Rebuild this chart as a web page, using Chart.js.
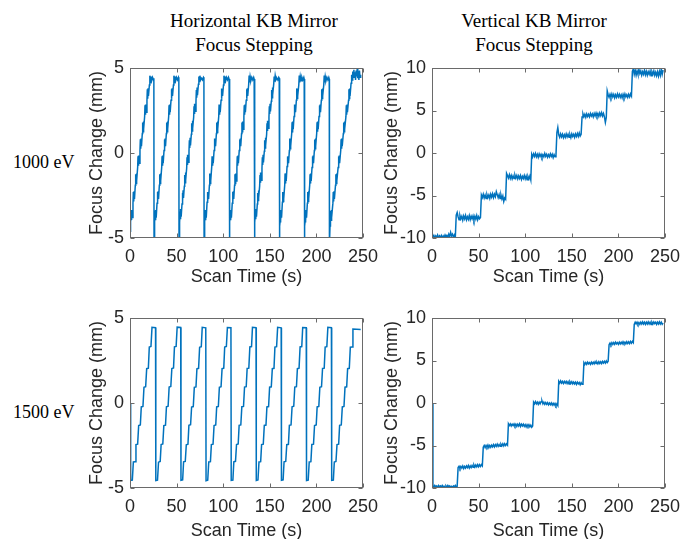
<!DOCTYPE html>
<html><head><meta charset="utf-8">
<script src="https://cdn.jsdelivr.net/npm/chart.js@4.4.1/dist/chart.umd.min.js"></script>
<style>
html,body{margin:0;padding:0;width:692px;height:539px;overflow:hidden;background:#fff;}
canvas{position:absolute;}
.hdr{position:absolute;font-family:"Liberation Serif","Times New Roman",serif;font-size:19px;line-height:24px;color:#000;text-align:center;width:220px;}
.row{position:absolute;font-family:"Liberation Serif","Times New Roman",serif;font-size:18px;line-height:24px;color:#000;white-space:nowrap;}
</style></head><body>
<div class="hdr" style="left:144px;top:9px">Horizontal KB Mirror<br>Focus Stepping</div>
<div class="hdr" style="left:424px;top:9px">Vertical KB Mirror<br>Focus Stepping</div>
<div class="row" style="left:13px;top:150px">1000 eV</div>
<div class="row" style="left:13px;top:400px">1500 eV</div>
<canvas id="c1" width="300" height="233" style="left:86px;top:55px"></canvas>
<canvas id="c2" width="311" height="233" style="left:381px;top:55px"></canvas>
<canvas id="c3" width="300" height="237" style="left:86px;top:305px"></canvas>
<canvas id="c4" width="311" height="237" style="left:381px;top:305px"></canvas>
<script>
// ---- tick labels / axis titles ----
const xTicks = [0, 50, 100, 150, 200, 250];
const yTicksHoriz = [-5, 0, 5];
const yTicksVert = [-10, -5, 0, 5, 10];
const xTitle = "Scan Time (s)";
const yTitle = "Focus Change (mm)";

// ---- Horizontal KB mirror, 1000 eV (time s, focus mm) ----
const hk1000Time = [
0.0,0.5,0.7,1.1,1.5,1.9,2.3,3.2,3.6,4.0,4.4,4.8,5.7,6.1,6.5,6.9,7.3,8.2,8.6,9.0,9.4,9.8,10.7,11.1,11.5,11.9,12.3,13.2,13.6,14.0,14.4,14.8,15.7,16.1,16.5,16.9,17.3,18.2,18.6,19.0,19.4,19.8,20.8,21.3,21.8,22.4,23.2,24.2,25.2,25.6,
25.8,26.3,26.5,26.9,27.3,27.7,28.1,29.0,29.4,29.8,30.2,30.6,31.5,31.9,32.3,32.7,33.1,34.0,34.4,34.8,35.2,35.6,36.5,36.9,37.3,37.7,38.1,39.0,39.4,39.8,40.2,40.6,41.5,41.9,42.3,42.7,43.1,44.0,44.4,44.8,45.2,45.6,46.6,47.1,47.6,48.2,49.0,50.0,51.0,52.0,52.4,
52.6,53.1,53.3,53.7,54.1,54.5,54.9,55.8,56.2,56.6,57.0,57.4,58.3,58.7,59.1,59.5,59.9,60.8,61.2,61.6,62.0,62.4,63.3,63.7,64.1,64.5,64.9,65.8,66.2,66.6,67.0,67.4,68.3,68.7,69.1,69.5,69.9,70.8,71.2,71.6,72.0,72.4,73.4,73.9,74.4,75.0,75.8,76.8,77.8,78.8,79.3,
79.5,80.0,80.2,80.6,81.0,81.4,81.8,82.7,83.1,83.5,83.9,84.3,85.2,85.6,86.0,86.4,86.8,87.7,88.1,88.5,88.9,89.3,90.2,90.6,91.0,91.4,91.8,92.7,93.1,93.5,93.9,94.3,95.2,95.6,96.0,96.4,96.8,97.7,98.1,98.5,98.9,99.3,100.3,100.8,101.3,101.9,102.7,103.7,104.7,105.7,106.3,
106.5,107.0,107.2,107.6,108.0,108.4,108.8,109.7,110.1,110.5,110.9,111.3,112.2,112.6,113.0,113.4,113.8,114.7,115.1,115.5,115.9,116.3,117.2,117.6,118.0,118.4,118.8,119.7,120.1,120.5,120.9,121.3,122.2,122.6,123.0,123.4,123.8,124.7,125.1,125.5,125.9,126.3,127.3,127.8,128.3,128.9,129.7,130.7,131.7,132.7,133.2,
133.4,133.9,134.1,134.5,134.9,135.3,135.7,136.6,137.0,137.4,137.8,138.2,139.1,139.5,139.9,140.3,140.7,141.6,142.0,142.4,142.8,143.2,144.1,144.5,144.9,145.3,145.7,146.6,147.0,147.4,147.8,148.2,149.1,149.5,149.9,150.3,150.7,151.6,152.0,152.4,152.8,153.2,154.2,154.7,155.2,155.8,156.6,157.6,158.6,159.6,160.1,
160.3,160.8,161.0,161.4,161.8,162.2,162.6,163.5,163.9,164.3,164.7,165.1,166.0,166.4,166.8,167.2,167.6,168.5,168.9,169.3,169.7,170.1,171.0,171.4,171.8,172.2,172.6,173.5,173.9,174.3,174.7,175.1,176.0,176.4,176.8,177.2,177.6,178.5,178.9,179.3,179.7,180.1,181.1,181.6,182.1,182.7,183.5,184.5,185.5,186.5,186.9,
187.1,187.6,187.8,188.2,188.6,189.0,189.4,190.3,190.7,191.1,191.5,191.9,192.8,193.2,193.6,194.0,194.4,195.3,195.7,196.1,196.5,196.9,197.8,198.2,198.6,199.0,199.4,200.3,200.7,201.1,201.5,201.9,202.8,203.2,203.6,204.0,204.4,205.3,205.7,206.1,206.5,206.9,207.9,208.4,208.9,209.5,210.3,211.3,212.3,213.3,213.8,
214.0,214.6,214.9,215.3,215.7,216.1,216.5,217.7,218.1,218.5,218.9,219.3,220.5,220.9,221.3,221.7,222.1,223.3,223.7,224.1,224.5,224.9,226.1,226.5,226.9,227.3,227.7,228.9,229.3,229.7,230.1,230.5,231.7,232.1,232.5,232.9,233.3,234.5,234.9,235.3,235.7,236.1,
237.2,237.8,238.4,239.0,239.6,240.2,240.8,241.4,242.0,242.6,243.2,243.8,244.4,245.0,245.6,246.2,246.8,247.5
];
const hk1000Focus = [
-4.6,-4.3,-4.05,-3.4,-3.95,-3.35,-3.8,-2.95,-2.3,-2.85,-2.25,-2.7,-1.9,-1.25,-1.8,-1.2,-1.65,-0.85,-0.2,-0.75,-0.15,-0.6,0.15,0.8,0.25,0.85,0.4,1.15,1.8,1.25,1.85,1.4,2.15,2.8,2.25,2.85,2.4,3.1,3.75,3.2,3.8,3.35,4.0,4.55,4.15,4.5,4.25,4.45,4.3,4.4,
-5.4,-4.3,-4.05,-3.4,-3.95,-3.35,-3.8,-2.95,-2.3,-2.85,-2.25,-2.7,-1.9,-1.25,-1.8,-1.2,-1.65,-0.85,-0.2,-0.75,-0.15,-0.6,0.15,0.8,0.25,0.85,0.4,1.15,1.8,1.25,1.85,1.4,2.15,2.8,2.25,2.85,2.4,3.1,3.75,3.2,3.8,3.35,4.0,4.55,4.15,4.5,4.25,4.45,4.3,4.45,4.35,
-5.4,-4.3,-4.1,-3.45,-3.9,-3.3,-3.75,-3.0,-2.35,-2.8,-2.2,-2.65,-1.95,-1.3,-1.75,-1.15,-1.6,-0.9,-0.25,-0.7,-0.1,-0.55,0.1,0.75,0.3,0.9,0.45,1.1,1.75,1.3,1.9,1.45,2.1,2.75,2.3,2.9,2.45,3.05,3.7,3.25,3.85,3.4,4.05,4.5,4.2,4.55,4.3,4.4,4.3,4.45,4.4,
-5.4,-4.3,-4.05,-3.35,-3.95,-3.4,-3.8,-2.9,-2.3,-2.85,-2.3,-2.7,-1.9,-1.2,-1.8,-1.25,-1.65,-0.8,-0.2,-0.75,-0.2,-0.6,0.15,0.85,0.25,0.8,0.4,1.15,1.8,1.2,1.85,1.4,2.15,2.85,2.25,2.8,2.4,3.1,3.8,3.2,3.75,3.35,4.0,4.55,4.15,4.5,4.25,4.45,4.3,4.45,4.35,
-5.4,-4.3,-4.05,-3.4,-3.95,-3.35,-3.8,-2.95,-2.3,-2.85,-2.25,-2.7,-1.9,-1.25,-1.8,-1.2,-1.65,-0.85,-0.2,-0.75,-0.15,-0.6,0.15,0.8,0.25,0.85,0.4,1.15,1.8,1.25,1.85,1.4,2.15,2.8,2.25,2.85,2.4,3.1,3.75,3.2,3.8,3.35,4.0,4.55,4.15,4.5,4.25,4.45,4.3,4.45,4.35,
-5.4,-4.3,-4.1,-3.45,-3.9,-3.3,-3.75,-3.0,-2.35,-2.8,-2.2,-2.65,-1.95,-1.3,-1.75,-1.15,-1.6,-0.9,-0.25,-0.7,-0.1,-0.55,0.1,0.75,0.3,0.9,0.45,1.1,1.75,1.3,1.9,1.45,2.1,2.75,2.3,2.9,2.45,3.05,3.7,3.25,3.85,3.4,4.05,4.5,4.2,4.55,4.3,4.4,4.3,4.45,4.4,
-5.4,-4.3,-4.05,-3.35,-3.95,-3.4,-3.8,-2.9,-2.3,-2.85,-2.3,-2.7,-1.9,-1.2,-1.8,-1.25,-1.65,-0.8,-0.2,-0.75,-0.2,-0.6,0.15,0.85,0.25,0.8,0.4,1.15,1.8,1.2,1.85,1.4,2.15,2.85,2.25,2.8,2.4,3.1,3.8,3.2,3.75,3.35,4.0,4.55,4.15,4.5,4.25,4.45,4.3,4.45,4.35,
-5.4,-4.3,-4.05,-3.4,-3.95,-3.35,-3.8,-2.95,-2.3,-2.85,-2.25,-2.7,-1.9,-1.25,-1.8,-1.2,-1.65,-0.85,-0.2,-0.75,-0.15,-0.6,0.15,0.8,0.25,0.85,0.4,1.15,1.8,1.25,1.85,1.4,2.15,2.8,2.25,2.85,2.4,3.1,3.75,3.2,3.8,3.35,4.0,4.55,4.15,4.5,4.25,4.45,4.3,4.45,4.35,
-5.4,-4.3,-4.05,-3.4,-3.95,-3.35,-3.8,-2.95,-2.3,-2.85,-2.25,-2.7,-1.9,-1.25,-1.8,-1.2,-1.65,-0.85,-0.2,-0.75,-0.15,-0.6,0.15,0.8,0.25,0.85,0.4,1.15,1.8,1.25,1.85,1.4,2.15,2.8,2.25,2.85,2.4,3.1,3.75,3.2,3.8,3.35,
4.1,4.6,4.3,4.8,4.45,4.9,4.5,4.75,4.3,4.85,4.5,4.95,4.4,4.8,4.3,4.85,4.45,4.6
];

// ---- Horizontal KB mirror, 1500 eV ----
const hk1500Time = [
0.0,
0.7,2.5,3.6,5.4,6.4,8.2,9.3,11.1,12.1,13.9,15.0,16.8,17.9,19.7,20.7,22.5,23.6,27.4,
27.7,29.5,30.6,32.4,33.4,35.2,36.3,38.1,39.1,40.9,42.0,43.8,44.9,46.7,47.7,49.5,50.6,54.4,
54.7,56.5,57.5,59.3,60.4,62.2,63.2,65.0,66.1,67.9,69.0,70.8,71.8,73.6,74.7,76.5,77.5,81.3,
81.6,83.4,84.5,86.3,87.3,89.1,90.2,92.0,93.0,94.8,95.9,97.7,98.8,100.6,101.6,103.4,104.5,108.3,
108.6,110.4,111.4,113.2,114.3,116.1,117.1,118.9,120.0,121.8,122.9,124.7,125.7,127.5,128.6,130.4,131.4,135.2,
135.5,137.3,138.4,140.2,141.2,143.0,144.1,145.9,146.9,148.7,149.8,151.6,152.7,154.5,155.5,157.3,158.4,162.2,
162.5,164.3,165.3,167.1,168.2,170.0,171.0,172.8,173.9,175.7,176.8,178.6,179.6,181.4,182.5,184.3,185.3,189.1,
189.4,191.2,192.3,194.1,195.1,196.9,198.0,199.8,200.8,202.6,203.7,205.5,206.6,208.4,209.4,211.2,212.3,216.1,
216.4,218.2,219.2,221.0,222.1,223.9,224.9,226.7,227.8,229.6,230.7,232.5,233.5,235.3,236.4,238.2,239.2,247.5
];
const hk1500Focus = [
0.0,
-4.55,-4.53,-3.47,-3.45,-2.45,-2.42,-1.32,-1.29,-0.23,-0.20,0.93,0.96,2.02,2.05,3.29,3.32,4.45,4.43,
-4.56,-4.54,-3.48,-3.44,-2.44,-2.41,-1.33,-1.30,-0.22,-0.19,0.94,0.97,2.03,2.06,3.30,3.33,4.46,4.44,
-4.55,-4.52,-3.46,-3.44,-2.46,-2.43,-1.31,-1.28,-0.24,-0.21,0.92,0.95,2.01,2.04,3.28,3.31,4.45,4.42,
-4.57,-4.54,-3.47,-3.45,-2.45,-2.42,-1.32,-1.29,-0.23,-0.20,0.93,0.96,2.02,2.05,3.29,3.32,4.44,4.43,
-4.55,-4.53,-3.46,-3.43,-2.44,-2.41,-1.31,-1.29,-0.22,-0.20,0.94,0.96,2.03,2.05,3.30,3.32,4.45,4.43,
-4.56,-4.53,-3.47,-3.45,-2.45,-2.42,-1.32,-1.30,-0.23,-0.21,0.93,0.95,2.02,2.04,3.29,3.31,4.45,4.42,
-4.55,-4.52,-3.46,-3.44,-2.45,-2.43,-1.31,-1.29,-0.22,-0.19,0.94,0.96,2.02,2.05,3.30,3.32,4.44,4.43,
-4.56,-4.54,-3.47,-3.45,-2.44,-2.42,-1.32,-1.29,-0.23,-0.20,0.93,0.96,2.03,2.05,3.29,3.31,4.45,4.43,
-4.55,-4.53,-3.47,-3.44,-2.45,-2.42,-1.31,-1.29,-0.23,-0.20,0.93,0.95,2.02,2.04,3.28,3.30,4.35,4.33
];

// ---- Vertical KB mirror, sampled on a 1 s grid ----
const scanTime = [
0,1,2,3,4,5,6,7,8,9,10,11,12,13,14,15,16,17,18,19,20,21,22,23,24,25,26,27,28,29,30,31,32,33,34,35,36,37,38,39,40,41,42,43,44,45,46,47,48,49,
50,51,52,53,54,55,56,57,58,59,60,61,62,63,64,65,66,67,68,69,70,71,72,73,74,75,76,77,78,79,80,81,82,83,84,85,86,87,88,89,90,91,92,93,94,95,96,97,98,99,
100,101,102,103,104,105,106,107,108,109,110,111,112,113,114,115,116,117,118,119,120,121,122,123,124,125,126,127,128,129,130,131,132,133,134,135,136,137,138,139,140,141,142,143,144,145,146,147,148,149,
150,151,152,153,154,155,156,157,158,159,160,161,162,163,164,165,166,167,168,169,170,171,172,173,174,175,176,177,178,179,180,181,182,183,184,185,186,187,188,189,190,191,192,193,194,195,196,197,198,199,
200,201,202,203,204,205,206,207,208,209,210,211,212,213,214,215,216,217,218,219,220,221,222,223,224,225,226,227,228,229,230,231,232,233,234,235,236,237,238,239,240,241,242,243,244,245,246,247,248
];
const vk1000Focus = [
-9.65,-9.95,-9.7,-10.0,-9.75,-9.95,-9.65,-10.0,-9.75,-9.95,-9.7,-10.0,-9.75,-9.95,-9.65,-9.9,-9.7,-9.95,-9.55,-9.85,-9.35,-9.75,-9.55,-9.9,-9.65,-9.95,
-7.3,-7.0,-7.5,-7.85,-7.35,-7.75,-7.45,-7.9,-7.4,-7.75,-7.35,-7.85,-7.5,-7.8,-7.35,-7.85,-7.45,-7.75,-7.4,-7.9,-7.45,-7.8,-7.35,-7.85,-7.5,-7.75,-7.6,
-4.95,-5.25,-4.85,-5.3,-4.95,-5.35,-4.9,-5.25,-4.95,-5.35,-4.85,-5.2,-4.8,-5.25,-4.85,-5.15,-4.55,-4.9,-5.25,-4.9,-5.35,-4.95,-5.4,-5.05,-5.7,-5.3,-5.45,
-2.4,-2.65,-2.95,-2.55,-3.0,-2.65,-3.05,-2.7,-3.0,-2.6,-2.95,-2.65,-3.05,-2.7,-3.0,-2.65,-3.1,-2.75,-3.0,-2.65,-3.05,-2.7,-3.15,-2.75,-3.05,-2.7,-3.15,
-0.15,-0.45,-0.1,-0.4,-0.05,-0.45,-0.15,-0.5,-0.1,-0.4,-0.15,-0.5,-0.2,-0.45,-0.05,-0.4,-0.15,-0.5,-0.2,-0.45,-0.1,-0.4,-0.15,-0.55,-0.2,-0.45,-0.3,
2.4,3.0,2.15,1.85,2.25,1.9,2.2,1.8,2.15,1.85,2.25,1.9,2.2,1.85,2.15,1.8,2.25,1.95,2.2,1.85,2.25,1.95,2.3,1.95,2.35,2.0,2.2,
4.25,4.6,4.25,4.55,4.2,4.6,4.3,4.55,4.25,4.65,4.35,4.6,4.25,4.65,4.35,4.7,4.35,4.65,4.3,4.7,4.4,4.75,4.35,4.65,4.25,3.6,4.2,
7.3,6.85,6.55,6.9,6.55,6.95,6.6,6.9,6.5,6.85,6.55,6.95,6.6,6.9,6.55,6.85,6.5,6.9,6.55,6.95,6.6,6.85,6.55,6.9,6.6,6.95,6.7,
9.6,9.9,9.25,9.75,9.15,9.65,9.25,9.85,9.35,9.65,9.15,9.55,9.25,9.75,9.2,9.6,9.15,9.55,9.25,9.65,9.1,9.55,9.25,9.65,9.15,9.5,9.1,9.55,9.05,9.6,9.15,9.9,9.25,9.75
];
const vk1500Focus = [
0.0,
-9.75,-9.9,-9.7,-9.85,-9.75,-9.95,-9.7,-9.85,-9.75,-9.9,-9.7,-9.85,-9.8,-9.95,-9.75,-9.9,-9.7,-9.85,-9.75,-9.9,-9.8,-9.95,-9.75,-9.85,-9.7,-9.9,-9.8,
-7.6,-7.45,-7.7,-7.45,-7.65,-7.4,-7.7,-7.45,-7.65,-7.4,-7.6,-7.35,-7.65,-7.4,-7.6,-7.35,-7.55,-7.3,-7.55,-7.3,-7.5,-7.25,-7.5,-7.25,-7.45,-7.25,-7.4,
-5.2,-5.0,-5.25,-5.0,-5.2,-4.95,-5.25,-5.0,-5.2,-4.95,-5.15,-4.9,-5.15,-4.9,-5.1,-4.85,-5.1,-4.9,-5.1,-4.85,-5.05,-4.8,-5.05,-4.8,-5.0,-4.8,-4.95,
-2.45,-2.65,-2.45,-2.7,-2.5,-2.65,-2.45,-2.7,-2.5,-2.75,-2.5,-2.7,-2.45,-2.75,-2.5,-2.7,-2.5,-2.75,-2.55,-2.8,-2.55,-2.75,-2.55,-2.8,-2.6,-2.85,-2.7,
0.1,-0.1,0.15,-0.1,0.1,-0.15,0.1,-0.1,0.15,0.25,-0.1,0.1,-0.15,0.05,-0.15,0.05,-0.2,0.0,-0.2,0.0,-0.25,-0.05,-0.25,-0.05,-0.3,-0.1,-0.3,
2.55,2.35,2.6,2.35,2.55,2.3,2.55,2.35,2.55,2.3,2.5,2.25,2.5,2.3,2.5,2.25,2.45,2.25,2.45,2.2,2.45,2.25,2.4,2.15,2.4,2.2,2.3,
4.75,4.55,4.75,4.55,4.8,4.6,4.75,4.55,4.8,4.6,4.8,4.6,4.85,4.65,4.8,4.6,4.85,4.65,4.85,4.65,4.9,4.7,4.9,4.7,4.95,4.75,4.9,
6.85,7.05,6.85,7.1,6.9,7.1,6.9,7.15,6.95,7.1,6.9,7.15,6.95,7.15,6.95,7.2,7.0,7.15,6.95,7.2,7.0,7.2,7.0,7.25,7.05,7.25,7.1,
9.25,9.5,9.3,9.5,9.25,9.45,9.25,9.5,9.3,9.55,9.3,9.5,9.25,9.5,9.3,9.55,9.3,9.5,9.25,9.5,9.3,9.55,9.35,9.5,9.25,9.5,9.3,9.55,9.3,9.5,9.25,9.4
];

// ---- drawing ----
const AX_COLOR = '#262626';
const BOX_COLOR = '#6a6a6a';
const LINE_COLOR = '#0072BD';
const SANS = '"Liberation Sans", Arial, Helvetica, sans-serif';

const matlabBox = {
  id: 'matlabBox',
  afterDatasetsDraw(chart) {
    const {ctx, chartArea: a, scales: {x, y}} = chart;
    ctx.save();
    ctx.strokeStyle = BOX_COLOR;
    ctx.lineWidth = 1;
    const L = Math.round(a.left) + 0.5, R = Math.round(a.right) - 0.5;
    const T = Math.round(a.top) + 0.5, B = Math.round(a.bottom) - 0.5;
    ctx.strokeRect(L, T, R - L, B - T);
    const tl = 4;
    ctx.beginPath();
    x.ticks.forEach(t => {
      const px = Math.round(x.getPixelForValue(t.value)) + 0.5;
      ctx.moveTo(px, B); ctx.lineTo(px, B - tl);
      ctx.moveTo(px, T); ctx.lineTo(px, T + tl);
    });
    y.ticks.forEach(t => {
      const py = Math.round(y.getPixelForValue(t.value)) + 0.5;
      ctx.moveTo(L, py); ctx.lineTo(L + tl, py);
      ctx.moveTo(R, py); ctx.lineTo(R - tl, py);
    });
    ctx.stroke();
    ctx.restore();
  }
};

function makePanel(id, times, values, yMin, yMax, yTicks, yWidth, xHeight, padRight) {
  const pts = times.map((t, i) => ({x: t, y: values[i]}));
  return new Chart(document.getElementById(id), {
    type: 'line',
    data: {datasets: [{data: pts, borderColor: LINE_COLOR, borderWidth: 1.5,
      pointRadius: 0, tension: 0, fill: false}]},
    options: {
      responsive: false, animation: false, devicePixelRatio: 1, events: [],
      layout: {padding: {left: 0, top: 13, right: padRight, bottom: 0}},
      plugins: {legend: {display: false}, tooltip: {enabled: false}, title: {display: false}},
      scales: {
        x: {
          type: 'linear', position: 'bottom', min: 0, max: 250,
          afterBuildTicks: s => { s.ticks = xTicks.map(v => ({value: v})); },
          ticks: {font: {family: SANS, size: 18}, color: AX_COLOR, padding: 8, maxRotation: 0, autoSkip: false},
          grid: {display: false, drawTicks: false, tickLength: 0},
          border: {display: false},
          title: {display: true, text: xTitle, font: {family: SANS, size: 18}, color: AX_COLOR, padding: 0},
          afterFit: s => { s.height = xHeight; s.paddingLeft = 0; s.paddingRight = 0; }
        },
        y: {
          type: 'linear', position: 'left', min: yMin, max: yMax,
          afterBuildTicks: s => { s.ticks = yTicks.map(v => ({value: v})); },
          ticks: {font: {family: SANS, size: 18}, color: AX_COLOR, padding: 6, autoSkip: false},
          grid: {display: false, drawTicks: false, tickLength: 0},
          border: {display: false},
          title: {display: true, text: yTitle, font: {family: SANS, size: 18}, color: AX_COLOR, padding: 0},
          afterFit: s => { s.width = yWidth; s.paddingTop = 0; s.paddingBottom = 0; }
        }
      }
    },
    plugins: [matlabBox]
  });
}

makePanel('c1', hk1000Time, hk1000Focus, -5, 5, yTicksHoriz, 44, 50, 23);
makePanel('c2', scanTime, vk1000Focus, -10, 10, yTicksVert, 51, 50, 27);
makePanel('c3', hk1500Time, hk1500Focus, -5, 5, yTicksHoriz, 44, 54, 23);
makePanel('c4', scanTime, vk1500Focus, -10, 10, yTicksVert, 51, 54, 27);
</script>
</body></html>
